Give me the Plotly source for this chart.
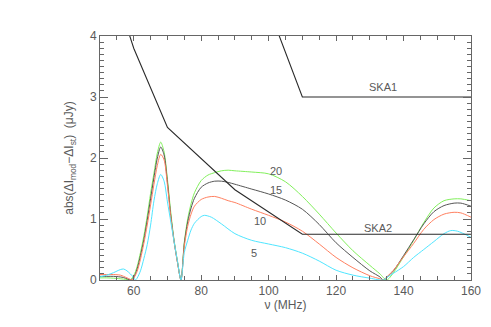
import plotly.graph_objects as go

# frequency grid (MHz) for the model curves
nu_lo = [50, 52, 54, 56, 57, 58]
nu_pk = [60, 61, 62, 63, 64, 65, 66, 67, 68, 69, 70, 71, 72, 73, 74]
nu_mid = [75, 76, 77, 78, 80, 82, 84, 86, 88, 90, 95, 100, 105, 110, 115, 120, 125, 130, 133]
nu_hi = [137, 140, 143, 146, 149, 152, 155, 157, 160]

# abs(dI_mod - dI_st) in uJy, labelled by parameter value
nu_20 = nu_lo + [58.8] + nu_pk + nu_mid + [135] + nu_hi
val_20 = [0.035, 0.035, 0.03, 0.02, 0.015, 0.007, 0.0,
          0.07, 0.22, 0.45, 0.72, 1.05, 1.42, 1.75, 2.08, 2.26, 2.1, 1.65, 1.1, 0.64, 0.3, 0.0,
          0.62, 1.0, 1.25, 1.43, 1.63, 1.72, 1.76, 1.79, 1.8, 1.79, 1.77, 1.74, 1.61, 1.37, 1.08, 0.77, 0.48, 0.24, 0.1,
          0.0,
          0.12, 0.38, 0.65, 0.94, 1.18, 1.3, 1.33, 1.33, 1.3]

nu_15 = nu_lo + [59.2] + nu_pk + nu_mid + [134, 135] + nu_hi
val_15 = [0.06, 0.06, 0.06, 0.05, 0.04, 0.02, 0.0,
          0.04, 0.18, 0.4, 0.66, 0.98, 1.33, 1.68, 2.0, 2.18, 2.05, 1.6, 1.05, 0.62, 0.28, 0.0,
          0.6, 0.95, 1.18, 1.34, 1.52, 1.59, 1.62, 1.62, 1.6, 1.57, 1.49, 1.41, 1.31, 1.16, 0.91, 0.61, 0.37, 0.15, 0.05,
          0.0, 0.04,
          0.15, 0.4, 0.66, 0.92, 1.12, 1.22, 1.26, 1.26, 1.21]

nu_10 = nu_lo + [59, 59.5] + nu_pk + nu_mid + [134, 135] + nu_hi
val_10 = [0.09, 0.09, 0.09, 0.08, 0.06, 0.035, 0.01, 0.0,
          0.03, 0.14, 0.34, 0.6, 0.9, 1.23, 1.57, 1.88, 2.06, 1.97, 1.55, 1.02, 0.62, 0.28, 0.0,
          0.55, 0.88, 1.08, 1.21, 1.32, 1.36, 1.37, 1.34, 1.3, 1.27, 1.16, 1.06, 0.95, 0.8, 0.59, 0.37, 0.2, 0.07, 0.02,
          0.0, 0.05,
          0.16, 0.38, 0.6, 0.83, 0.99, 1.08, 1.11, 1.1, 1.03]

nu_5 = [50, 52, 54, 56, 57, 58, 59, 60, 60.5, 61, 62, 63, 64, 65, 66, 67, 68, 69, 70, 71, 72, 73, 74,
        75, 76, 77, 78, 80, 81, 83, 86, 90, 95, 100, 105, 110, 115, 120, 125, 130, 134,
        135, 137, 140, 143, 146, 149, 152, 154, 156, 160]
val_5 = [0.05, 0.08, 0.12, 0.17, 0.18, 0.15, 0.1, 0.04, 0.0, 0.03, 0.15, 0.35, 0.58, 0.9, 1.3, 1.58, 1.73, 1.62, 1.28, 0.95, 0.62, 0.3, 0.0,
         0.45, 0.65, 0.82, 0.93, 1.04, 1.06, 1.03, 0.92, 0.76, 0.65, 0.59, 0.53, 0.44, 0.31, 0.16, 0.08, 0.03, 0.0,
         0.04, 0.11, 0.22, 0.37, 0.5, 0.63, 0.76, 0.81, 0.8, 0.7]

# SKA sensitivity limits
ska1_nu = [90, 110, 160]
ska1_val = [5.92, 3.0, 3.0]
ska2_nu = [50, 60, 70, 90, 110, 160]
ska2_val = [5.5, 3.8, 2.5, 1.48, 0.75, 0.75]

series = [
    (nu_20, val_20, "#82f05c", "20", 102.2, 1.78),
    (nu_15, val_15, "#555555", "15", 102.2, 1.47),
    (nu_10, val_10, "#ff8060", "10", 97.3, 0.96),
    (nu_5, val_5, "#4fe6ff", "5", 95.8, 0.45),
]

TXT = "#5a5a5a"
FONT = "Liberation Sans"
fig = go.Figure()

for nu, val, col, lab, lx, ly in series:
    fig.add_trace(go.Scatter(x=nu, y=val, mode="lines",
                             line=dict(color=col, width=1, shape="spline", smoothing=0.8),
                             showlegend=False))
    fig.add_annotation(x=lx, y=ly, text=lab, showarrow=False,
                       font=dict(size=11, color=TXT, family=FONT))

for nu, val in [(ska1_nu, ska1_val), (ska2_nu, ska2_val)]:
    fig.add_trace(go.Scatter(x=nu, y=val, mode="lines",
                             line=dict(color="#2a2a2a", width=1.1), showlegend=False))

fig.add_annotation(x=133.9, y=3.16, text="SKA1", showarrow=False,
                   font=dict(size=11, color=TXT, family=FONT))
fig.add_annotation(x=132.4, y=0.86, text="SKA2", showarrow=False,
                   font=dict(size=11, color=TXT, family=FONT))

axis_common = dict(showgrid=False, zeroline=False, showline=True, linecolor="#666666",
                   linewidth=1, mirror="allticks", ticks="inside", tickcolor="#666666",
                   tickfont=dict(size=12, color=TXT, family=FONT))

fig.update_xaxes(range=[50, 160], tick0=0, dtick=20, ticklen=5,
                 minor=dict(dtick=5, ticklen=4, ticks="inside", tickcolor="#666666"),
                 title=dict(text="ν (MHz)", standoff=3,
                            font=dict(size=12, color=TXT, family=FONT)),
                 **axis_common)
fig.update_yaxes(range=[0, 4], dtick=1, ticklen=8,
                 minor=dict(dtick=0.1, ticklen=4, ticks="inside", tickcolor="#666666"),
                 title=dict(text="abs(ΔI<sub>mod</sub>−ΔI<sub>st</sub>)  (μJy)", standoff=13,
                            font=dict(size=12, color=TXT, family=FONT)),
                 **axis_common)

fig.update_layout(width=491, height=327, margin=dict(l=92, r=28, t=28, b=55),
                  plot_bgcolor="white", paper_bgcolor="white", showlegend=False)

fig.write_html("out.html")
